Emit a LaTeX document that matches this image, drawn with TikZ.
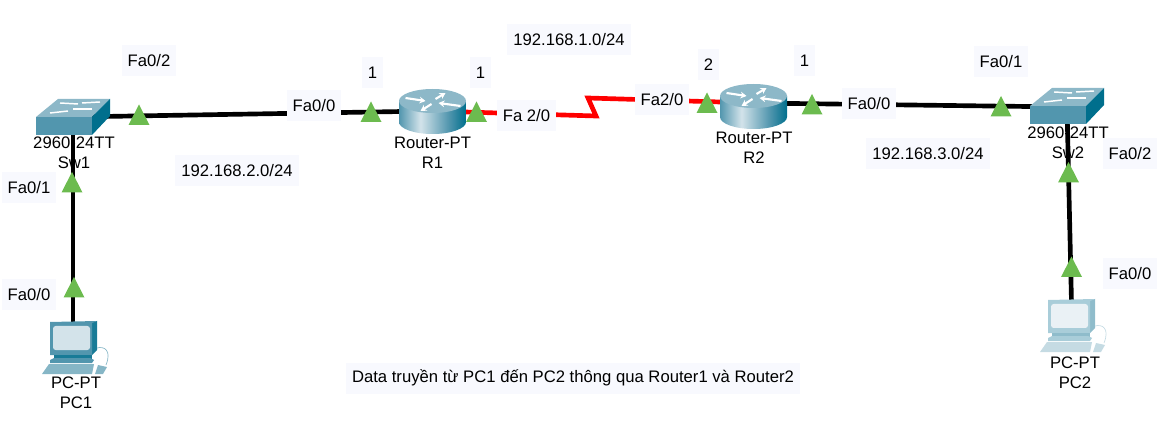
\documentclass[tikz,border=0pt]{standalone}
\usepackage{fontspec}
\setmainfont{Liberation Sans}
\usetikzlibrary{arrows.meta}

\definecolor{labelbg}{HTML}{F8F9FE}
\definecolor{portgreen}{HTML}{6CBB4F}
\definecolor{devtop}{HTML}{8DB8C8}
\definecolor{devfront}{HTML}{5296AE}
\definecolor{devside}{HTML}{006F8D}
\definecolor{scrlight}{HTML}{D3E3EA}
\definecolor{pctwofront}{HTML}{A9CDD9}
\definecolor{pctwoside}{HTML}{8FBCCB}
\definecolor{pctwokey}{HTML}{C5DBE3}
\definecolor{scrtwo}{HTML}{EAF1F5}
\pgfdeclarehorizontalshading{routerbody}{100bp}{
  color(0bp)=(devfront); color(25bp)=(devfront); color(41bp)=(scrlight);
  color(62bp)=(devfront); color(75bp)=(devside); color(100bp)=(devside)}

\tikzset{
  txt/.style={font=\fontsize{12.5}{12.5}\selectfont, inner sep=0pt, align=center},
  portlabel/.style={txt, fill=labelbg, minimum height=23.25pt, inner xsep=4.5pt},
  link/.style={black, line width=3.5pt},
  seriallink/.style={red, line width=3.5pt},
  pics/porttri/.style={code={
    \fill[portgreen] (0,-10.5) -- (10.5,10) -- (-10.5,10) -- cycle;
  }},
  pics/switchicon/.style={code={
    \fill[devfront] (0,0) rectangle (56,18);
    \fill[devtop] (0,0) -- (22,-18) -- (74,-18) -- (56,0) -- cycle;
    \fill[devside] (56,0) -- (74,-18) -- (74,-1) -- (56,18) -- cycle;
    \draw[white, line width=1.1pt] (24,-14) -- (42,-13);
    \draw[white, line width=1.1pt] (46,-14) -- (64,-15);
    \draw[white, line width=1.1pt] (14,-4) -- (32,-6);
    \draw[white, line width=1.1pt] (37,-8) -- (56,-8);
  }},
  pics/routericon/.style={code={
    \shade[shading=routerbody] (-33.5,-10) -- (-33.5,11) arc[start angle=180, end angle=0, x radius=33.5, y radius=12] -- (33.5,-10) -- cycle;
    \fill[devtop] (0,-10) ellipse [x radius=33.5, y radius=12];
    \draw[white, line width=1.6pt, -{Stealth[length=4.5pt,width=5pt]}] (-27,-13) -- (-7,-10);
    \draw[white, line width=1.6pt, -{Stealth[length=4.5pt,width=5pt]}] (3,-12) -- (13,-18);
    \draw[white, line width=1.6pt, {Stealth[length=4.5pt,width=5pt]}-] (6,-8) -- (28,-5);
    \draw[white, line width=1.6pt, -{Stealth[length=4.5pt,width=5pt]}] (-1,-7) -- (-12,0);
  }},
  pics/pcicon/.style n args={4}{code={
    \fill[#2] (42,0) -- (47,-1) -- (47,28) -- (42,33) -- cycle;
    \fill[#1] (0,0) -- (47,-1) -- (42,1) -- (42,33) -- (0,33) -- cycle;
    \fill[#4, rounded corners=2pt] (3,4) rectangle (40,28);
    \fill[#2] (4,33) -- (42,33) -- (42,38) -- (4,38) -- cycle;
    \fill[#1] (0,38) -- (4,36) -- (40,36) -- (44,38) -- (42,41) -- (0,41) -- cycle;
    \fill[#3] (-8,52) -- (-1,42) -- (44,42) -- (42,52) -- cycle;
    \fill[#3] (45,52) -- (48,43) -- (57,45) -- (53,52) -- cycle;
    \draw[#3, line width=0.5pt] (47,26) .. controls (54,24) and (62,28) .. (56,43);
  }}
}

\begin{document}
\begin{tikzpicture}[x=0.75pt, y=-0.75pt]
  \useasboundingbox (0,0) rectangle (1166,434);

  % devices and bends
  \coordinate (Sw1) at (73,117);
  \coordinate (R1) at (432.5,111);
  \coordinate (R2) at (753.5,103);
  \coordinate (Sw2) at (1067,107);
  \coordinate (PC1) at (73,345);
  \coordinate (PC2) at (1072,325);
  \coordinate (bendA) at (596,116);
  \coordinate (bendB) at (588,98);

  % links
  \draw[link] (Sw1) -- (R1);
  \draw[link] (R2) -- (Sw2);
  \draw[link] (Sw1) -- (PC1);
  \draw[link] (Sw2) -- (PC2);
  \draw[seriallink] (R1) -- (bendA) -- (bendB) -- (R2);

  % icons
  \pic at (36,117) {switchicon};
  \pic at (1030,106) {switchicon};
  \pic at (432.5,111) {routericon};
  \pic at (753.5,106) {routericon};
  \pic at (50,322) {pcicon={devfront}{devside!70!devfront}{devfront!70!white}{scrlight}};
  \pic at (1048,300) {pcicon={pctwofront}{pctwoside}{pctwokey}{scrtwo}};

  % ports
  \pic at (139,115) {porttri};
  \pic at (72,182.5) {porttri};
  \pic at (74,287.5) {porttri};
  \pic at (371,112) {porttri};
  \pic at (476.5,112) {porttri};
  \pic at (707,103) {porttri};
  \pic at (812,104.5) {porttri};
  \pic at (1001,106.5) {porttri};
  \pic at (1068.5,172.5) {porttri};
  \pic at (1071.5,267) {porttri};

  % device names
  \node[txt] (sw1name) at (74,153) {2960-24TT\\[2.5pt]Sw1};
  \node[txt] (r1name) at (432.5,153) {Router-PT\\[2.5pt]R1};
  \node[txt] (r2name) at (754,147.5) {Router-PT\\[2.5pt]R2};
  \node[txt] (sw2name) at (1068,142.5) {2960-24TT\\[2.5pt]Sw2};
  \node[txt] (pc1name) at (76,393) {PC-PT\\[2.5pt]PC1};
  \node[txt] (pc2name) at (1075,372.5) {PC-PT\\[2.5pt]PC2};

  % port labels
  \node[portlabel] (swaTwo) at (149,61) {Fa0/2};
  \node[portlabel] (swaOne) at (29,188) {Fa0/1};
  \node[portlabel] (pcaZero) at (29,295) {Fa0/0};
  \node[portlabel] (raZero) at (314,106) {Fa0/0};
  \node[portlabel] (raNumZero) at (372.5,73) {1};
  \node[portlabel] (raNumTwo) at (480.5,73) {1};
  \node[portlabel] (raTwo) at (526.5,115.5) {Fa 2/0};
  \node[portlabel] (rbTwo) at (662,100) {Fa2/0};
  \node[portlabel] (rbNumTwo) at (708.5,64.5) {2};
  \node[portlabel] (rbNumZero) at (804.5,61) {1};
  \node[portlabel] (rbZero) at (869,103.5) {Fa0/0};
  \node[portlabel] (swbOne) at (1001,61.5) {Fa0/1};
  \node[portlabel] (swbTwo) at (1130,154) {Fa0/2};
  \node[portlabel] (pcbZero) at (1130,274) {Fa0/0};

  % networks
  \node[portlabel] (netTwo) at (237,171) {192.168.2.0/24};
  \node[portlabel] (netOne) at (569,39.5) {192.168.1.0/24};
  \node[portlabel] (netThree) at (928,154) {192.168.3.0/24};
  \node[portlabel] (note) at (573,378) {Data truyền từ PC1 đến PC2 thông qua Router1 và Router2};
\end{tikzpicture}
\end{document}
